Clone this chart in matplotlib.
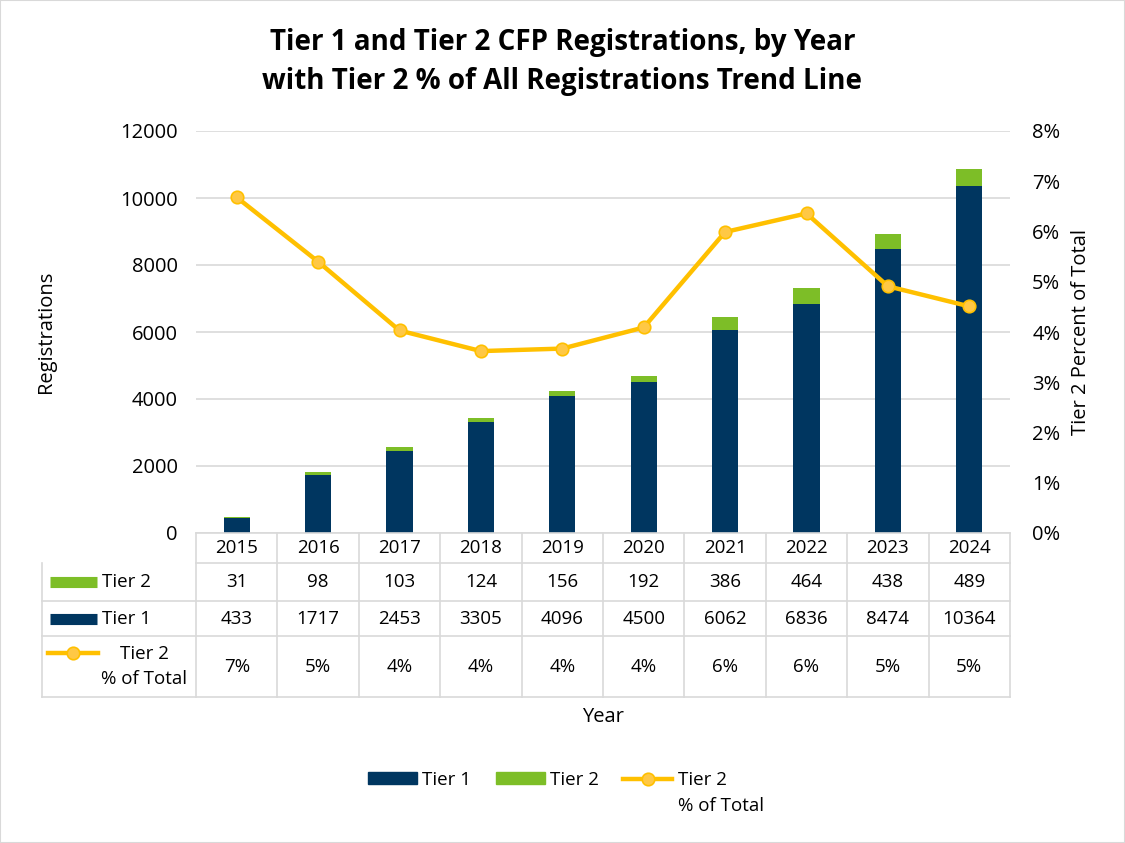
import matplotlib
matplotlib.use('Agg')
import matplotlib.pyplot as plt
import matplotlib.transforms as mtransforms
from matplotlib.lines import Line2D
from matplotlib.patches import Rectangle, Patch

plt.rcParams['font.family'] = ['Open Sans', 'DejaVu Sans']

years = ['2015', '2016', '2017', '2018', '2019', '2020', '2021', '2022', '2023', '2024']
tier1 = [433, 1717, 2453, 3305, 4096, 4500, 6062, 6836, 8474, 10364]
tier2 = [31, 98, 103, 124, 156, 192, 386, 464, 438, 489]
tier2_pct = [6.68, 5.40, 4.03, 3.62, 3.67, 4.09, 5.99, 6.36, 4.91, 4.51]
pct_labels = ['7%', '5%', '4%', '4%', '4%', '4%', '6%', '6%', '5%', '5%']

c_t1 = '#003660'
c_t2 = '#7DBE27'
c_line = '#FFC000'
c_mark = '#FFC845'
c_grid = '#D9D9D9'
fs = 13.5
fs_tick = 14.5


def plot_results():
    fig = plt.figure(figsize=(11.25, 8.43), dpi=100)
    fig.patches.append(Rectangle((0, 0), 1, 1, transform=fig.transFigure,
                                 fill=False, edgecolor=c_grid, lw=1.5))
    ax = fig.add_axes([196 / 1125, 1 - 533 / 843, 814 / 1125, 402 / 843])
    x = list(range(len(years)))

    ax.bar(x, tier1, width=0.32, color=c_t1, zorder=2)
    ax.bar(x, tier2, width=0.32, bottom=tier1, color=c_t2, zorder=2)
    ax.set_xlim(-0.5, len(years) - 0.5)
    ax.set_ylim(0, 12000)
    ax.set_yticks(range(0, 12001, 2000))
    ax.set_xticks([])
    ax.grid(axis='y', color=c_grid, lw=1.2, zorder=0)
    for s in ax.spines.values():
        s.set_visible(False)
    ax.tick_params(axis='y', length=0, labelsize=fs_tick, pad=13)
    ax.set_ylabel('Registrations', fontsize=fs_tick)
    ax.yaxis.set_label_coords((56 - 196) / 814, 0.5)

    ax2 = ax.twinx()
    ax2.plot(x, [p / 100 for p in tier2_pct], color=c_line, lw=3.2,
             marker='o', markersize=9, markerfacecolor=c_mark,
             markeredgecolor=c_line, markeredgewidth=1.2, zorder=3)
    ax2.set_ylim(0, 0.08)
    ax2.set_yticks([i / 100 for i in range(0, 9)])
    ax2.set_yticklabels(['%d%%' % i for i in range(0, 9)])
    for s in ax2.spines.values():
        s.set_visible(False)
    ax2.tick_params(axis='y', length=0, labelsize=fs_tick, pad=16)
    ax2.set_ylabel('Tier 2 Percent of Total', fontsize=fs_tick)
    ax2.yaxis.set_label_coords((1071 - 196) / 814, 0.5)

    # data table below the axis
    tr = mtransforms.blended_transform_factory(ax.transData, ax.transAxes)
    h = 402.0
    rows = [(0, -30 / h), (-30 / h, -68 / h), (-68 / h, -103 / h), (-103 / h, -164 / h)]
    left = -0.5 - 154 / 81.4
    kw = dict(color=c_grid, lw=1.2, transform=tr, clip_on=False)
    ax.plot([-0.5, len(years) - 0.5], [rows[0][0]] * 2, **kw)
    for top, bot in rows:
        xs = -0.5 if top == 0 else left
        ax.plot([xs, len(years) - 0.5], [bot, bot], **kw)
    for i in range(len(years) + 1):
        ax.plot([i - 0.5, i - 0.5], [0, rows[-1][1]], **kw)
    ax.plot([left, left], [rows[0][1], rows[-1][1]], **kw)

    row_vals = [years, [str(v) for v in tier2], [str(v) for v in tier1], pct_labels]
    for (top, bot), vals in zip(rows, row_vals):
        for i, v in enumerate(vals):
            ax.text(i, (top + bot) / 2, v, transform=tr, ha='center', va='center',
                    fontsize=fs, clip_on=False)

    # row label keys
    sw_x0 = left + 8 / 81.4
    sw_x1 = left + 55 / 81.4
    for (top, bot), col, lab in [(rows[1], c_t2, 'Tier 2'), (rows[2], c_t1, 'Tier 1')]:
        yc = (top + bot) / 2
        ax.plot([sw_x0, sw_x1], [yc, yc], color=col, lw=8, solid_capstyle='butt',
                transform=tr, clip_on=False)
        ax.text(left + 60 / 81.4, yc, lab, transform=tr, ha='left', va='center',
                fontsize=fs, clip_on=False)
    yc = (rows[3][0] + rows[3][1]) / 2 + 14 / h
    ax.plot([left + 6 / 81.4, left + 56 / 81.4], [yc, yc], color=c_line, lw=3.2,
            transform=tr, clip_on=False)
    ax.plot([left + 31 / 81.4], [yc], marker='o', markersize=9, color=c_line,
            markerfacecolor=c_mark, markeredgewidth=1.2, transform=tr, clip_on=False)
    ax.text(left + 102 / 81.4, (rows[3][0] + rows[3][1]) / 2, 'Tier 2\n% of Total',
            transform=tr, ha='center', va='center', fontsize=fs, clip_on=False,
            linespacing=1.45)

    ax.text(0.5, 1 - 717 / 843, 'Year', ha='center', va='center', fontsize=fs_tick,
            transform=mtransforms.blended_transform_factory(ax.transAxes, fig.transFigure))
    fig.text(0.5, 1 - 62 / 843, 'Tier 1 and Tier 2 CFP Registrations, by Year\n'
             'with Tier 2 % of All Registrations Trend Line',
             ha='center', va='center', fontsize=20, fontweight='bold', linespacing=1.45)

    handles = [Patch(color=c_t1), Patch(color=c_t2),
               Line2D([], [], color=c_line, lw=3.2, marker='o', markersize=9,
                      markerfacecolor=c_mark, markeredgewidth=1.2)]
    leg = fig.legend(handles, ['Tier 1', 'Tier 2', 'Tier 2'], ncol=3,
                     loc='center left', bbox_to_anchor=(368 / 1125, 1 - 780 / 843),
                     frameon=False, borderaxespad=0, borderpad=0,
                     fontsize=fs, handlelength=2.6, handleheight=0.6,
                     columnspacing=1.3, handletextpad=0.3)
    fig.canvas.draw()
    bb = leg.get_texts()[2].get_window_extent()
    fig.text(bb.x0 / 1125, 1 - 806 / 843, '% of Total', ha='left', va='center',
             fontsize=fs)

    fig.savefig('out.png', dpi=100)


if __name__ == '__main__':
    plot_results()
